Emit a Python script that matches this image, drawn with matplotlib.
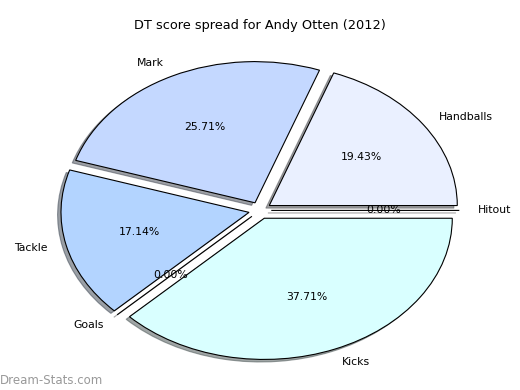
import matplotlib
matplotlib.use("Agg")
import matplotlib.pyplot as plt

categories = ["Hitout", "Handballs", "Mark", "Tackle", "Goals", "Kicks"]
values = [0, 68, 90, 60, 0, 132]
colors = ["#ffffff", "#eaf0ff", "#c4d8ff", "#b3d4ff", "#ffffff", "#d9ffff"]
explode = [0.06] * 6
title = "DT score spread for Andy Otten (2012)"

fig = plt.figure(figsize=(5.2, 3.9), dpi=100)
ax = fig.add_axes([0.048, 0.008, 0.904, 0.905])
wedges, texts, autotexts = ax.pie(
    values, labels=categories, colors=colors, explode=explode,
    autopct="%1.2f%%", shadow={"ox": -0.013, "oy": -0.013},
    startangle=0, counterclock=True,
    wedgeprops=dict(edgecolor="black", linewidth=0.8),
    textprops=dict(fontsize=7.8), normalize=True)
ax.set_aspect("auto")
ax.set_xlim(-1.25, 1.25)
ax.set_ylim(-1.25, 1.25)
fig.text(0.5, 0.935, title, ha="center", va="center", fontsize=9.3)
fig.text(0.0, 0.025, "Dream-Stats.com", ha="left", va="center",
         fontsize=8.5, color="#999999")
fig.savefig("out.png", dpi=100)
